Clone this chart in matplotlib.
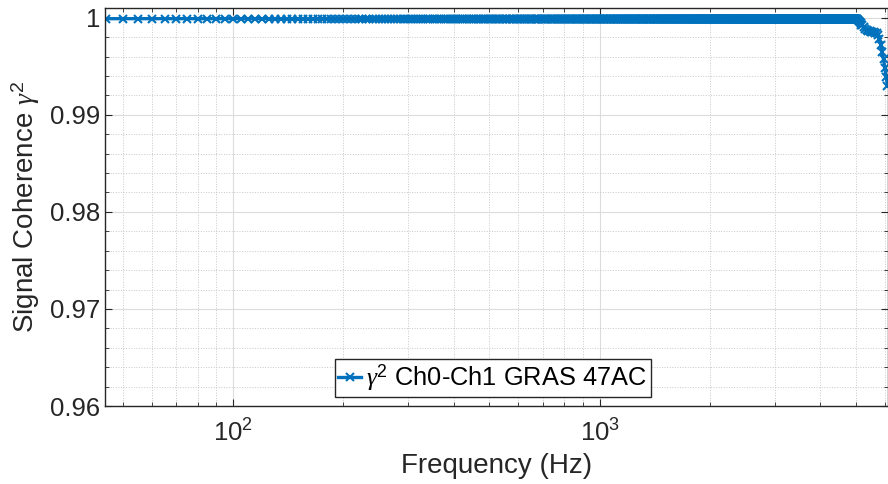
import numpy as np
import matplotlib
matplotlib.use("Agg")
import matplotlib.pyplot as plt
from matplotlib.ticker import FixedLocator, LogLocator, NullFormatter

plt.rcParams['font.family'] = ['Liberation Sans', 'DejaVu Sans']
plt.rcParams['mathtext.fontset'] = 'custom'
plt.rcParams['mathtext.rm'] = 'Liberation Sans'
plt.rcParams['mathtext.it'] = 'Liberation Serif:italic'

# Frequency bins (5 Hz FFT grid) over the flat part, coherence read as ~0.9999
freq_flat = np.arange(45, 5000, 5)
coh_flat_level = 0.9999

# Roll-off at the top end of the band
freq_tail = [5000, 5025, 5050, 5075, 5100, 5125, 5150, 5175, 5200, 5250,
             5300, 5350, 5400, 5450, 5500, 5550, 5600, 5650, 5700, 5750,
             5800, 5850, 5900, 5950, 6000, 6050, 6100]
coh_tail = [0.99988, 0.99986, 0.99984, 0.9998, 0.9997, 0.9996, 0.9995, 0.9993,
            0.9992, 0.9990, 0.9988, 0.9987, 0.99865, 0.9986, 0.99855, 0.9985,
            0.9985, 0.99845, 0.9984, 0.9982, 0.9978, 0.9972, 0.9965, 0.9957,
            0.9948, 0.9939, 0.9930]

freq = np.concatenate([freq_flat, freq_tail])
coh = np.concatenate([np.full(len(freq_flat), coh_flat_level), coh_tail])

legend_label = r'$\gamma^{\rm 2}$ Ch0-Ch1 GRAS 47AC'
blue = '#0072BD'

fig = plt.figure(figsize=(8.88, 4.84), dpi=100)
ax = fig.add_axes([105/888, 1 - 406/484, 1 - 105/888, (406 - 8)/484])

ax.semilogx(freq, coh, '-x', color=blue, lw=2.4, ms=5.5, mew=1.5, label=legend_label)

ax.set_xlim(44.7, 6120)
ax.set_ylim(0.96, 1.001)

ax.yaxis.set_major_locator(FixedLocator([0.96, 0.97, 0.98, 0.99, 1.0]))
ax.set_yticklabels(['0.96', '0.97', '0.98', '0.99', '1'])
ax.yaxis.set_minor_locator(FixedLocator(np.arange(0.96, 1.0005, 0.002)))
ax.xaxis.set_major_locator(LogLocator(base=10))
ax.xaxis.set_minor_locator(LogLocator(base=10, subs=np.arange(2, 10)))
ax.xaxis.set_minor_formatter(NullFormatter())

ax.tick_params(which='both', direction='in', top=True, right=True,
               colors='#262626', labelsize=18.5, length=5)
ax.tick_params(which='minor', length=3)
ax.tick_params(axis='x', pad=10)

ax.grid(True, which='major', color='#dcdcdc', lw=0.8, ls='-')
ax.grid(True, which='minor', color='#c8c8c8', lw=0.7, ls=':')
for s in ax.spines.values():
    s.set_color('#262626')
    s.set_linewidth(1.0)

ax.set_xlabel('Frequency (Hz)', fontsize=20, color='#262626', labelpad=4)
ax.set_ylabel(r'Signal Coherence $\gamma^{\rm 2}$', fontsize=20, color='#262626', labelpad=6)

leg = ax.legend(loc='lower center', bbox_to_anchor=(0.495, 0.01), fontsize=18.3,
                handlelength=0.9, handletextpad=0.2, borderpad=0.15,
                borderaxespad=0.2, fancybox=False, framealpha=1,
                edgecolor='#262626')
leg.get_frame().set_linewidth(1.0)

fig.savefig('out.png', dpi=100)
